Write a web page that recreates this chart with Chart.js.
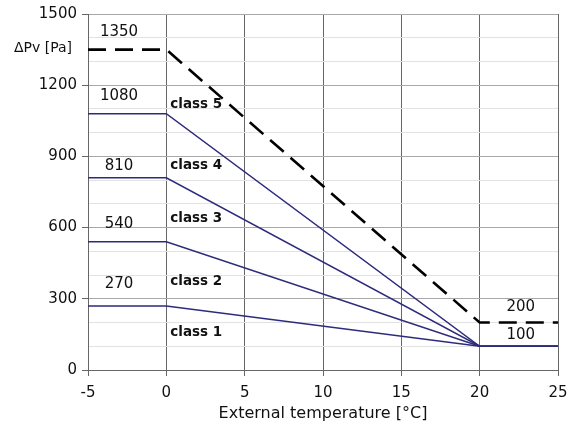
<!DOCTYPE html>
<html>
<head>
<meta charset="utf-8">
<script src="https://cdn.jsdelivr.net/npm/chart.js@4/dist/chart.umd.min.js"></script>
<style>
html,body{margin:0;padding:0;background:#fff;}
#wrap{width:571px;height:424px;}
</style>
</head>
<body>
<div id="wrap"><canvas id="c" width="571" height="424"></canvas></div>
<script>
const temps = [-5, 0, 20, 25];
const limit1 = [270, 270, 100, 100];
const limit2 = [540, 540, 100, 100];
const limit3 = [810, 810, 100, 100];
const limit4 = [1080, 1080, 100, 100];
const limitMax = [1350, 1350, 200, 200];
const levelLabels = ['270', '540', '810', '1080', '1350'];
const classNames = ['class 1', 'class 2', 'class 3', 'class 4', 'class 5'];
const endLabels = ['200', '100'];
const xTicks = [-5, 0, 5, 10, 15, 20, 25];
const yTicks = [0, 300, 600, 900, 1200, 1500];

const FONT = "'DejaVu Sans', sans-serif";
const NAVY = '#2d2b7c';

function pts(arr){ return temps.map((t,i)=>({x:t,y:arr[i]})); }

const solid = [limit1, limit2, limit3, limit4].map(a => ({
  data: pts(a), borderColor: NAVY, borderWidth: 1.5, pointRadius: 0, fill: false, tension: 0
}));
const dashed = {
  data: pts(limitMax), borderColor: '#000', borderWidth: 2.6, borderDash: [18, 9],
  pointRadius: 0, fill: false, tension: 0
};

const textPlugin = {
  id: 'texts',
  afterDatasetsDraw(chart){
    const ctx = chart.ctx, xs = chart.scales.x, ys = chart.scales.y;
    ctx.save();
    ctx.fillStyle = '#111';
    ctx.textBaseline = 'middle';
    const levels = [limit1, limit2, limit3, limit4, limitMax];
    const lvlOff = [22, 18, 12, 18, 17];
    ctx.font = '15px ' + FONT;
    ctx.textAlign = 'center';
    levels.forEach((a, i) => {
      ctx.fillText(levelLabels[i], xs.getPixelForValue(temps[0]) + 31, ys.getPixelForValue(a[0]) - lvlOff[i]);
    });
    const clsRef = [limit1, limit1, limit2, limit3, limit4];
    const clsOff = [27, -24, -23, -12, -9];
    ctx.font = 'bold 13.5px ' + FONT;
    ctx.textAlign = 'left';
    classNames.forEach((n, i) => {
      ctx.fillText(n, xs.getPixelForValue(temps[1]) + 4, ys.getPixelForValue(clsRef[i][1]) + clsOff[i]);
    });
    ctx.font = '15px ' + FONT;
    ctx.textAlign = 'center';
    const ex = (xs.getPixelForValue(temps[2]) + xs.getPixelForValue(temps[3])) / 2 + 2;
    ctx.fillText(endLabels[0], ex, ys.getPixelForValue(limitMax[3]) - 15);
    ctx.fillText(endLabels[1], ex, ys.getPixelForValue(limit1[3]) - 11);
    ctx.font = '14px ' + FONT;
    ctx.textAlign = 'right';
    ctx.fillText('\u0394Pv [Pa]', xs.left - 16, ys.getPixelForValue(limitMax[0]) - 1);
    ctx.restore();
  }
};

new Chart(document.getElementById('c'), {
  type: 'line',
  data: { datasets: [...solid, dashed] },
  options: {
    responsive: false,
    animation: false,
    events: [],
    layout: { padding: { left: 0, right: 13, top: 13, bottom: 0 } },
    plugins: { legend: { display: false }, tooltip: { enabled: false } },
    scales: {
      x: {
        type: 'linear', min: xTicks[0], max: xTicks[xTicks.length - 1],
        afterBuildTicks: s => { s.ticks = xTicks.map(v => ({ value: v })); },
        afterFit: s => { s.height = 54; s.paddingRight = 0; s.paddingLeft = 0; },
        ticks: { color: '#111', font: { family: FONT, size: 15 }, padding: 8, maxRotation: 0 },
        grid: { color: '#666', lineWidth: 1, tickLength: 6, tickColor: '#666' },
        border: { color: '#666', width: 1 },
        title: { display: true, text: 'External temperature [°C]', color: '#111',
                 font: { family: FONT, size: 16 }, padding: { top: 0, bottom: 1 } }
      },
      y: {
        type: 'linear', min: yTicks[0], max: yTicks[yTicks.length - 1],
        afterBuildTicks: s => {
          const t = [];
          for (let v = yTicks[0]; v <= yTicks[yTicks.length - 1]; v += 50) t.push({ value: v });
          s.ticks = t;
        },
        afterFit: s => { s.width = 88; },
        ticks: {
          color: '#111', font: { family: FONT, size: 15 }, padding: 5,
          callback: v => yTicks.includes(v) ? String(v) : ''
        },
        grid: {
          color: c => (c.tick && yTicks.includes(c.tick.value)) ? '#a8a8a8' : '#e2e2e2',
          tickColor: c => (c.tick && yTicks.includes(c.tick.value)) ? '#666' : 'rgba(0,0,0,0)',
          lineWidth: 1, tickLength: 6
        },
        border: { color: '#666', width: 1 }
      }
    }
  },
  plugins: [textPlugin]
});
</script>
</body>
</html>
